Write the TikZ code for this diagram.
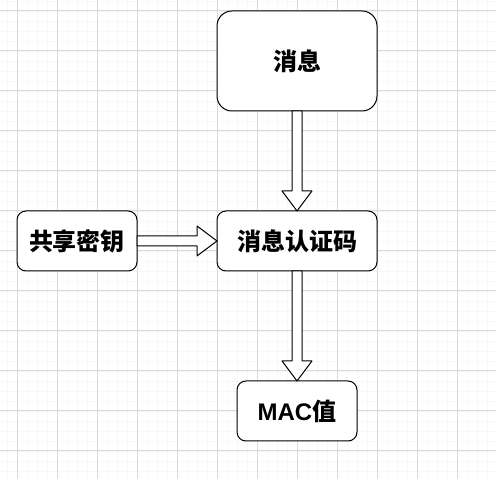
\documentclass[tikz,border=0pt]{standalone}
\usepackage{fontspec}
\setmainfont{Liberation Sans}
\newfontfamily\cjk{Noto Sans CJK SC}
\usetikzlibrary{calc}

\begin{document}
\begin{tikzpicture}[x=1pt,y=1pt,line join=round,
  box/.style={draw=black,line width=1pt,fill=white,rounded corners=9pt,
    minimum width=120pt,minimum height=60pt,inner sep=0pt,outer sep=0pt,
    font=\fontsize{24}{28}\selectfont\bfseries},
  freccia/.style={draw=black,line width=1pt,fill=white},
  griglia/.style={line width=0.5pt,black!3},
  grigliamaggiore/.style={line width=1pt,black!15}]

% --- Sfondo: foglio a quadretti ---
\fill[white] (0,0) rectangle (496,479);
\clip (0,0) rectangle (496,479);
\begin{scope}[shift={(7,8)}]
  \draw[griglia,step=10pt] (-20,-20) grid (500,490); % quadretti piccoli
\end{scope}
\begin{scope}[shift={(17,28)}]
  \draw[grigliamaggiore,step=40pt] (-40,-40) grid (500,490); % quadretti grandi
\end{scope}

% --- Blocchi ---
\node[box,minimum width=160pt,minimum height=100pt,rounded corners=15pt] (msg) at (297,418) {\cjk 消息};
\node[box,minimum width=160pt] (mac) at (297,238) {\cjk 消息认证码};
\node[box] (key) at (77,238) {\cjk 共享密钥};
\node[box] (val) at (297,68) {MAC\cjk 值};

% --- Frecce ---
% messaggio -> MAC
\draw[freccia] ($(msg.south)+(-5,0)$) -- ($(mac.north)+(-5,20)$) -- ($(mac.north)+(-15,20)$)
  -- (mac.north) -- ($(mac.north)+(15,20)$) -- ($(mac.north)+(5,20)$) -- ($(msg.south)+(5,0)$) -- cycle;
% chiave -> MAC
\draw[freccia] ($(key.east)+(0,5)$) -- ($(mac.west)+(-20,5)$) -- ($(mac.west)+(-20,15)$)
  -- (mac.west) -- ($(mac.west)+(-20,-15)$) -- ($(mac.west)+(-20,-5)$) -- ($(key.east)+(0,-5)$) -- cycle;
% MAC -> valore
\draw[freccia] ($(mac.south)+(-5,0)$) -- ($(val.north)+(-5,20)$) -- ($(val.north)+(-15,20)$)
  -- (val.north) -- ($(val.north)+(15,20)$) -- ($(val.north)+(5,20)$) -- ($(mac.south)+(5,0)$) -- cycle;

\end{tikzpicture}
\end{document}
